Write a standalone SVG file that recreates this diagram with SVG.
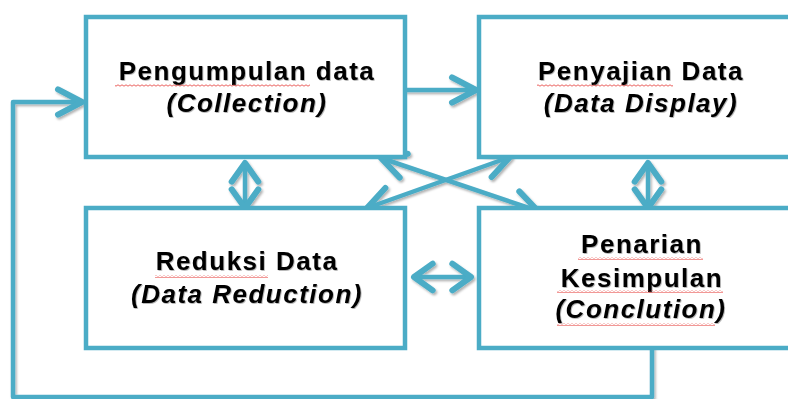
<svg xmlns="http://www.w3.org/2000/svg" width="788" height="399" viewBox="0 0 788 399">
<style>
.box{fill:#fff;stroke:#4BACC6;stroke-width:4.5;}
.t{font-family:"Liberation Sans",Arial,sans-serif;font-weight:bold;font-size:26px;letter-spacing:1.5px;fill:#000;text-anchor:middle;}
.i{font-style:italic;}
.c{fill:none;stroke:#4BACC6;stroke-width:4.5;stroke-linecap:round;stroke-linejoin:round;}
.sq{fill:url(#sq);}
</style>
<defs>
<marker id="ah" markerUnits="userSpaceOnUse" markerWidth="40" markerHeight="40" viewBox="-25 -15 30 30" refX="0" refY="0" orient="auto-start-reverse" overflow="visible">
<path d="M-18,-9.5 L0,0 L-18,9.5" fill="none" stroke="#4BACC6" stroke-width="4.5" stroke-linecap="round" stroke-linejoin="round"/>
</marker>
<marker id="ah2" markerUnits="userSpaceOnUse" markerWidth="40" markerHeight="40" viewBox="-25 -15 30 30" refX="0" refY="0" orient="auto-start-reverse" overflow="visible">
<path d="M-14,-10 L0,0 L-14,10" fill="none" stroke="#4BACC6" stroke-width="4.5" stroke-linecap="round" stroke-linejoin="round"/>
</marker>
<pattern id="sq" patternUnits="userSpaceOnUse" width="4" height="3">
<path d="M0,2.2 L2,0.8 L4,2.2" fill="none" stroke="#E53935" stroke-width="0.8"/>
</pattern>
<filter id="sh" x="-20%" y="-20%" width="140%" height="140%">
<feDropShadow dx="1.5" dy="2" stdDeviation="1.2" flood-color="#000" flood-opacity="0.3"/>
</filter>
<filter id="tsh" x="-5%" y="-20%" width="110%" height="140%">
<feDropShadow dx="0.8" dy="0.8" stdDeviation="0.6" flood-color="#000" flood-opacity="0.35"/>
</filter>
</defs>
<g id="connectors" filter="url(#sh)">
<polyline class="c" points="652,348 652,397 13,397 13,102 82,102" marker-end="url(#ah)"/>
<line class="c" x1="406" y1="90" x2="476" y2="90" marker-end="url(#ah)"/>
<line class="c" x1="245" y1="163" x2="245" y2="208" marker-start="url(#ah2)" marker-end="url(#ah2)"/>
<line class="c" x1="648" y1="163" x2="648" y2="208" marker-start="url(#ah2)" marker-end="url(#ah2)"/>
<line class="c" x1="414" y1="277" x2="471" y2="277" marker-start="url(#ah2)" marker-end="url(#ah2)"/>
<line class="c" x1="381" y1="158" x2="538" y2="211" marker-start="url(#ah)" marker-end="url(#ah)"/>
<line class="c" x1="367" y1="208" x2="510" y2="157" marker-start="url(#ah)" marker-end="url(#ah)"/>
</g>
<g id="collection">
<rect class="box" x="86" y="17" width="319" height="140"/>
<g filter="url(#tsh)">
<text class="t" x="247" y="80">Pengumpulan data</text>
<text class="t i" x="247" y="112">(Collection)</text>
</g>
<rect class="sq" x="115" y="84" width="195" height="3"/>
</g>
<g id="display">
<rect class="box" x="479" y="17" width="330" height="140"/>
<g filter="url(#tsh)">
<text class="t" x="641" y="80">Penyajian Data</text>
<text class="t i" x="641" y="112">(Data Display)</text>
</g>
<rect class="sq" x="537" y="84" width="136" height="3"/>
</g>
<g id="reduction">
<rect class="box" x="86" y="208" width="319" height="140"/>
<g filter="url(#tsh)">
<text class="t" x="247" y="270">Reduksi Data</text>
<text class="t i" x="247" y="303">(Data Reduction)</text>
</g>
<rect class="sq" x="155" y="275" width="113" height="3"/>
</g>
<g id="conclusion">
<rect class="box" x="479" y="208" width="330" height="140"/>
<g filter="url(#tsh)">
<text class="t" x="642" y="253">Penarian</text>
<text class="t" x="642" y="287">Kesimpulan</text>
<text class="t i" x="641" y="318">(Conclution)</text>
</g>
<rect class="sq" x="578" y="257" width="125" height="3"/>
<rect class="sq" x="557" y="290" width="166" height="3"/>
<rect class="sq" x="557" y="323" width="158" height="3"/>
</g>
</svg>
